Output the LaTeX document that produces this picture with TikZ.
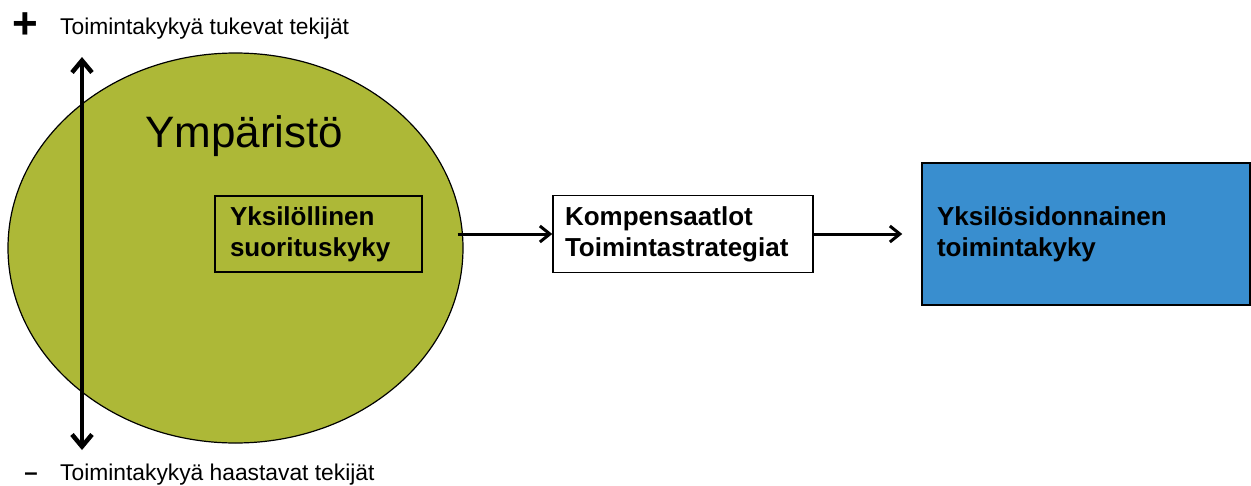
\documentclass[tikz,border=0pt]{standalone}
\usepackage{fontspec}
\setmainfont{Liberation Sans}
\usetikzlibrary{arrows.meta,shapes.geometric}
\tikzset{>={Straight Barb[length=10pt,width=16pt]}}
\definecolor{envgreen}{RGB}{173,184,55}
\definecolor{boxblue}{RGB}{57,142,207}
\tikzset{
  txtbox/.style={draw=black, line width=1.5pt, align=left, inner ysep=0pt,
    font=\fontsize{26}{31}\selectfont\bfseries},
  sidetext/.style={anchor=base west, inner sep=0pt, font=\fontsize{22.8}{22.8}\selectfont},
}

\begin{document}
\begin{tikzpicture}[x=1pt,y=-1pt]
  \useasboundingbox (0,0) rectangle (1251,485);

  % environment
  \node[ellipse, draw, line width=1.2pt, fill=envgreen,
    minimum width=455pt, minimum height=390pt] (env) at (235.5,248) {};
  \node[anchor=base west, inner sep=0pt, font=\fontsize{44}{44}\selectfont] (envlabel) at (145,147) {Ympäristö};

  % boxes
  \node[txtbox, fill=envgreen, inner xsep=15pt, text width=177pt,
    minimum width=207pt, minimum height=76pt] (perf) at (318.5,234) {Yksilöllinen\\suorituskyky};
  \node[txtbox, fill=white, inner xsep=12pt, text width=236pt,
    minimum width=260pt, minimum height=77pt] (comp) at (683,234) {Kompensaatlot\\Toimintastrategiat};
  \node[txtbox, fill=boxblue, inner xsep=15pt, text width=298pt,
    minimum width=328pt, minimum height=142pt] (result) at (1086,234) {Yksilösidonnainen\\toimintakyky};

  \draw[->, line width=3pt, shorten <=-6pt] (perf -| env.east) -- (comp.west); % env -> comp
  \draw[->, line width=3pt, shorten >=19pt] (comp.east) -- (result.west); % comp -> result

  % +/- axis
  \coordinate (plustip) at (82,57);
  \coordinate (minustip) at (82,450);
  \draw[<->, line width=4.5pt, >={Straight Barb[length=12pt,width=20pt]}] (plustip) -- (minustip);

  \node[inner sep=0pt, font=\fontsize{44}{44}\selectfont\bfseries] (plus) at (25,26) {+};
  \node[sidetext] (pluslabel) at (60,34) {Toimintakykyä tukevat tekijät};
  \node[inner sep=0pt, font=\fontsize{24}{24}\selectfont\bfseries] (minus) at (31,477) {–};
  \node[sidetext] (minuslabel) at (60,480) {Toimintakykyä haastavat tekijät};

\end{tikzpicture}
\end{document}
